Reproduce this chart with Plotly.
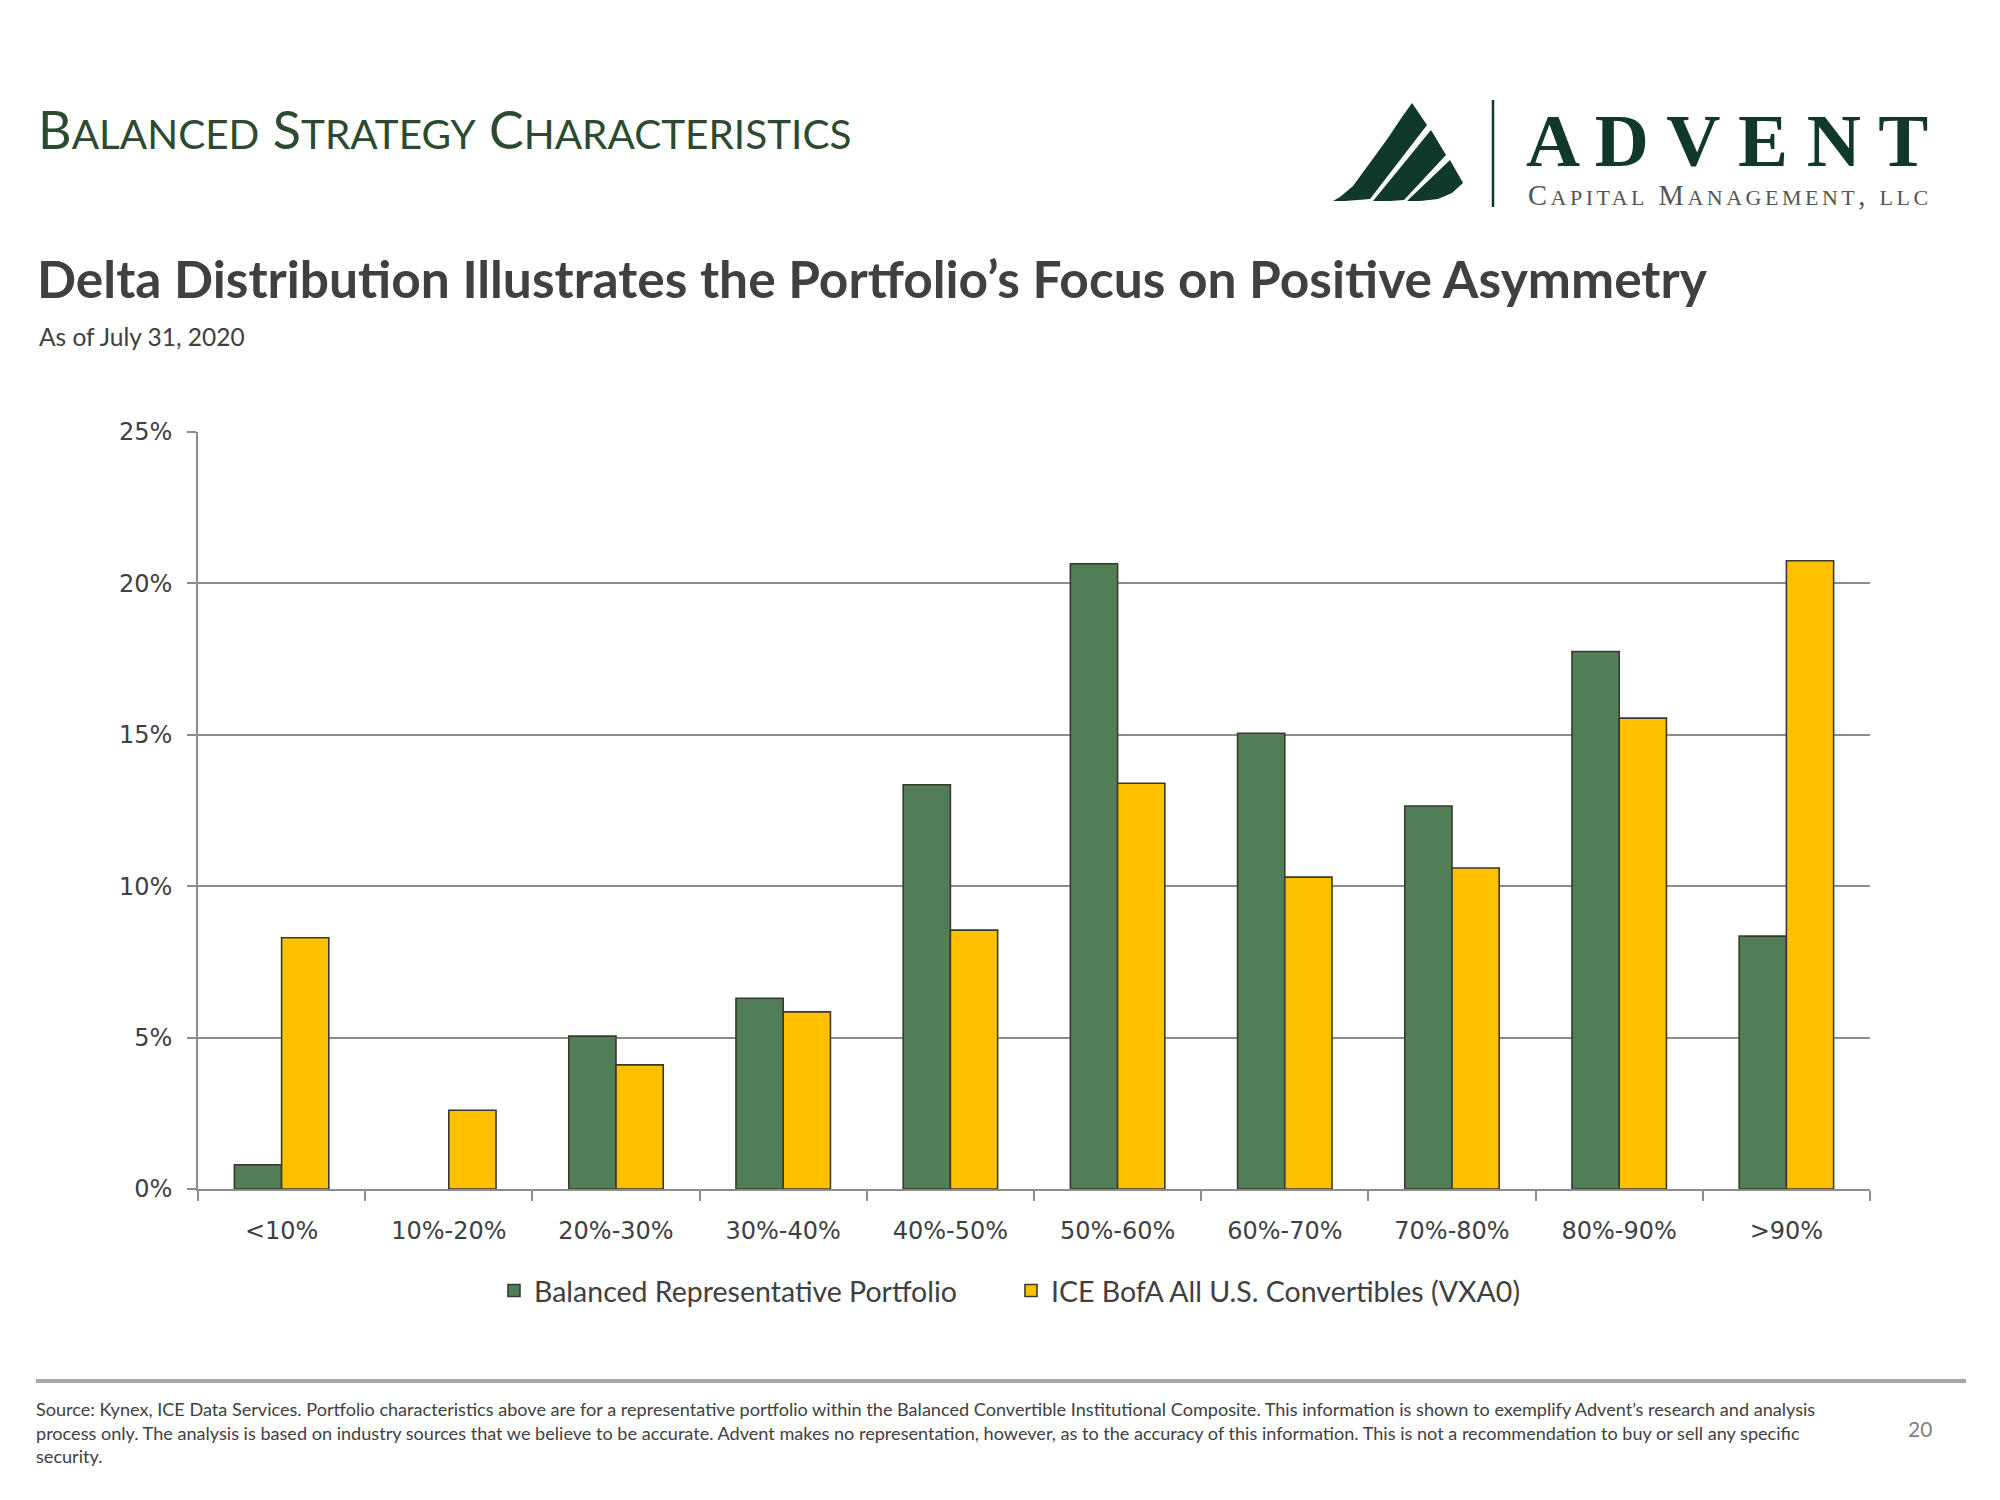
import plotly.graph_objects as go

categories = ["<10%", "10%-20%", "20%-30%", "30%-40%", "40%-50%",
              "50%-60%", "60%-70%", "70%-80%", "80%-90%", ">90%"]
balanced = [0.8, 0.0, 5.05, 6.3, 13.35, 20.65, 15.05, 12.65, 17.75, 8.35]
ice_bofa = [8.3, 2.6, 4.1, 5.85, 8.55, 13.4, 10.3, 10.6, 15.55, 20.75]
series_names = ["Balanced Representative Portfolio", "ICE BofA All U.S. Convertibles (VXA0)"]
y_ticks = [0, 5, 10, 15, 20, 25]
y_tick_text = ["0%", "5%", "10%", "15%", "20%", "25%"]

GREEN = "#517D57"
YELLOW = "#FFC000"
OUTLINE = "#3A3A2C"
GRID = "#8C8C8C"
TXT = "#404040"
HEAD = "#2B4A2F"
LOGO = "#10392A"

W, H = 2000, 1500
OFF = 8  # page body margin
# target plot area in page pixels: left 198, right 1870, top 432, bottom 1189
L = 198 - OFF
T = 432 - OFF
R = W - (1870 - OFF)
B = H - (1189 - OFF)

def outline_widths(vals):
    return [0 if v == 0 else 1.6 for v in vals]

fig = go.Figure()
fig.add_trace(go.Bar(x=categories, y=balanced, name=series_names[0],
                     marker=dict(color=GREEN, line=dict(color=OUTLINE, width=outline_widths(balanced)))))
fig.add_trace(go.Bar(x=categories, y=ice_bofa, name=series_names[1],
                     marker=dict(color=YELLOW, line=dict(color=OUTLINE, width=outline_widths(ice_bofa)))))

pw, ph = W - L - R, H - T - B

def P(x, y):
    """page pixel -> paper fraction"""
    return (x - OFF - L) / pw, (H - B - (y - OFF)) / ph

leg_x, leg_y = P(494, 1291)

fig.update_layout(
    width=W, height=H,
    margin=dict(l=L, r=R, t=T, b=B),
    paper_bgcolor="white", plot_bgcolor="white",
    barmode="group", bargap=0.435, bargroupgap=0,
    showlegend=True,
    legend=dict(orientation="h", x=leg_x, xanchor="left", y=leg_y, yanchor="middle",
                font=dict(family="Lato", size=28.5, color=TXT),
                entrywidth=472, entrywidthmode="pixels", itemwidth=30, traceorder="normal"),
    xaxis=dict(showline=True, linecolor=GRID, linewidth=1.6, ticks="outside",
               tickson="boundaries", ticklen=10, tickcolor=GRID, tickwidth=1.6,
               ticklabelstandoff=19,
               tickfont=dict(family="DejaVu Sans", size=24, color=TXT),
               showgrid=False, fixedrange=True),
    yaxis=dict(range=[0, 25], tickvals=y_ticks, ticktext=y_tick_text,
               showline=True, linecolor=GRID, linewidth=1.6,
               ticks="outside", ticklen=9, tickcolor=GRID, tickwidth=1.6,
               showgrid=True, gridcolor=GRID, gridwidth=1.6, zeroline=False,
               ticklabelstandoff=10,
               tickfont=dict(family="DejaVu Sans", size=24, color=TXT)),
)

ann = []
def add_text(text, x, y, size, color, family="Lato", xanchor="left", yanchor="middle", align="left"):
    px_, py_ = P(x, y)
    ann.append(dict(text=text, x=px_, y=py_, xref="paper", yref="paper",
                    xanchor=xanchor, yanchor=yanchor, align=align, showarrow=False,
                    font=dict(family=family, size=size, color=color)))

# Header in small caps
big, small = 52, 40.5
def sc(word):
    return f"{word[0]}<span style='font-size:{small}px'>{word[1:]}</span>"
header = " ".join(sc(w) for w in ["BALANCED", "STRATEGY", "CHARACTERISTICS"])
add_text(header, 36, 162, big, HEAD, yanchor="bottom")
add_text("<b>Delta Distribution Illustrates the Portfolio’s Focus on Positive Asymmetry</b>",
         35, 278, 51.5, TXT)
add_text("As of July 31, 2020", 37, 337, 24.5, TXT)

# Logo text
add_text("<b>A D V E N T</b>", 1930, 140, 75, LOGO, family="Liberation Serif", xanchor="right")
sm = 22
cap = (f"<span style='letter-spacing:3.5px'>C<span style='font-size:{sm}px'>APITAL</span> "
       f"M<span style='font-size:{sm}px'>ANAGEMENT</span>, "
       f"<span style='font-size:{sm}px'>LLC</span></span>")
add_text(cap, 1934, 196, 28.5, "#555555", family="Liberation Serif", xanchor="right")

# Footer
footer = ("Source: Kynex, ICE Data Services. Portfolio characteristics above are for a representative portfolio within the Balanced Convertible Institutional Composite. This information is shown to exemplify Advent’s research and analysis<br>"
          "process only. The analysis is based on industry sources that we believe to be accurate. Advent makes no representation, however, as to the accuracy of this information. This is not a recommendation to buy or sell any specific<br>"
          "security.")
add_text(footer, 34, 1396, 18.1, TXT, yanchor="top")
add_text("20", 1920, 1428, 21, "#7F7F7F", xanchor="center")

fig.update_layout(annotations=ann)

def path(points):
    s = ""
    for i, (x, y) in enumerate(points):
        px_, py_ = P(x, y)
        s += ("M" if i == 0 else "L") + f"{px_:.5f},{py_:.5f} "
    return s + "Z"

shapes = []
def add_line(xa, ya, xb, yb, color, width):
    x0, y0 = P(xa, ya); x1, y1 = P(xb, yb)
    shapes.append(dict(type="line", xref="paper", yref="paper", x0=x0, y0=y0, x1=x1, y1=y1,
                       line=dict(color=color, width=width)))

add_line(36, 1381, 1966, 1381, "#A6A6A6", 4)      # footer rule
add_line(1493, 100, 1493, 207, LOGO, 2.5)         # logo divider
# mountain stripes
stripes = [
    [(1412, 103), (1427, 125), (1370, 199), (1345, 201), (1333, 201), (1340, 197),
     (1353, 186), (1372, 160), (1388, 138), (1402, 117)],
    [(1431, 130), (1446, 155), (1404, 200), (1390, 201), (1373, 201)],
    [(1450, 160), (1463, 183), (1452, 193), (1438, 199), (1420, 201), (1407, 201)],
]
for st in stripes:
    shapes.append(dict(type="path", xref="paper", yref="paper", path=path(st),
                       fillcolor=LOGO, line=dict(width=0)))
fig.update_layout(shapes=shapes)

fig.write_html("out.html")
